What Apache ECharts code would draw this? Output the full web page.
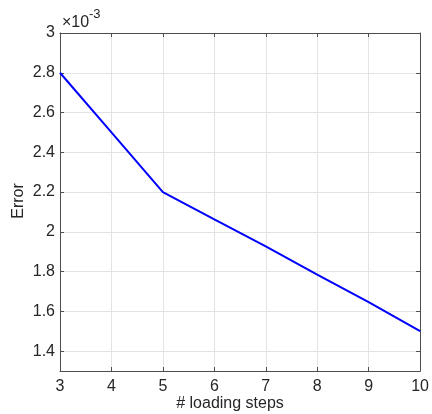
<!DOCTYPE html>
<html>
<head>
<meta charset="utf-8">
<script src="https://cdn.jsdelivr.net/npm/echarts@6/dist/echarts.min.js"></script>
<style>
  html, body { margin: 0; padding: 0; background: #fff; }
  #chart { width: 432px; height: 414px; }
</style>
</head>
<body>
<div id="chart"></div>
<script>
// values in units of 1e-3
const steps = [3, 4, 5, 6, 7, 8, 9, 10];
const errors = [2.8, 2.5, 2.2, 2.063, 1.927, 1.785, 1.646, 1.5];
const yTicks = [1.4, 1.6, 1.8, 2, 2.2, 2.4, 2.6, 2.8, 3];
const xName = '# loading steps';
const yName = 'Error';

const font = "'Liberation Sans', Arial, Helvetica, sans-serif";
const ink = '#262626';
const axisColor = '#4d4d4d';
const gridColor = '#e3e3e3';

const chart = echarts.init(document.getElementById('chart'));

const lineData = steps.map((s, i) => [s, errors[i]]);

function xAxisOf(pos, labels) {
  return {
    type: 'value',
    position: pos,
    min: 3,
    max: 10,
    interval: 1,
    axisLine: { show: true, lineStyle: { color: axisColor, width: 1 } },
    axisTick: { show: true, inside: true, length: 4, lineStyle: { color: axisColor } },
    axisLabel: { show: labels, color: ink, fontSize: 16, fontFamily: font, margin: 8 },
    splitLine: { show: labels, lineStyle: { color: gridColor, width: 1 } }
  };
}

function yAxisOf(pos, labels) {
  return {
    type: 'value',
    position: pos,
    min: 1.3,
    max: 3,
    axisLine: { show: true, lineStyle: { color: axisColor, width: 1 } },
    axisTick: { show: true, inside: true, length: 4, customValues: yTicks, lineStyle: { color: axisColor } },
    axisLabel: {
      show: labels, color: ink, fontSize: 16, fontFamily: font, margin: 5,
      customValues: yTicks,
      formatter: v => String(+v.toFixed(1))
    },
    splitLine: { show: labels, lineStyle: { color: gridColor, width: 1 } }
  };
}

const option = {
  animation: false,
  backgroundColor: '#fff',
  grid: { left: 60, right: 9, top: 33, bottom: 43 },
  xAxis: [xAxisOf('bottom', true), xAxisOf('top', false)],
  yAxis: [yAxisOf('left', true), yAxisOf('right', false)],
  graphic: [
    {
      type: 'text', left: 62, top: 15,
      style: { text: '×10', fontSize: 16, fontFamily: font, fill: ink }
    },
    {
      type: 'text', left: 89, top: 8,
      style: { text: '-3', fontSize: 13, fontFamily: font, fill: ink }
    },
    {
      type: 'text', x: 230, y: 404,
      style: { text: xName, fontSize: 16, fontFamily: font, fill: ink, align: 'center', verticalAlign: 'middle' }
    },
    {
      type: 'text', x: 19, y: 201, rotation: Math.PI / 2,
      style: { text: yName, fontSize: 16, fontFamily: font, fill: ink, align: 'center', verticalAlign: 'middle' }
    }
  ],
  series: [{
    type: 'line',
    data: lineData,
    showSymbol: false,
    lineStyle: { color: '#0000ff', width: 2 },
    itemStyle: { color: '#0000ff' }
  }]
};

chart.setOption(option);
</script>
</body>
</html>
